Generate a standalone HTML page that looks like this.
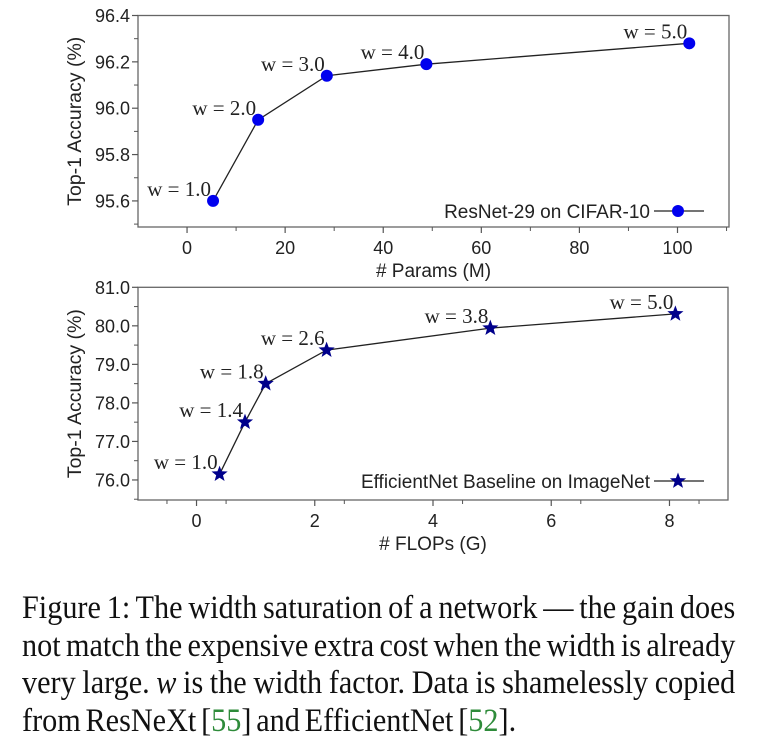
<!DOCTYPE html>
<html><head><meta charset="utf-8">
<style>
body{margin:0;background:#fff;width:757px;height:753px;overflow:hidden;position:relative}
svg{position:absolute;left:0;top:0}
.cap{position:absolute;left:22px;width:767px;transform:scaleX(0.93);transform-origin:0 0;font-family:"Liberation Serif",serif;font-size:32.5px;word-spacing:-3px;color:#111;line-height:37.5px;top:590px}
.ln{display:block;text-align:justify;text-align-last:justify;white-space:nowrap}
.ln.last{text-align-last:left}
.ref{color:#2e8b3a}
</style></head><body>
<svg id="chart" width="757" height="580"></svg>
<div class="cap">
<span class="ln">Figure 1: The width saturation of a network — the gain does</span>
<span class="ln">not match the expensive extra cost when the width is already</span>
<span class="ln">very large. <i>w</i> is the width factor. Data is shamelessly copied</span>
<span class="ln last">from ResNeXt [<span class="ref">55</span>] and EfficientNet [<span class="ref">52</span>].</span>
</div>
<script>
const topX=[5.3,14.5,28.5,48.8,102.4];
const topY=[95.6,95.95,96.14,96.19,96.28];
const topLabels=["w = 1.0","w = 2.0","w = 3.0","w = 4.0","w = 5.0"];
const topXTicks=[0,20,40,60,80,100];
const topYTicks=[95.6,95.8,96.0,96.2,96.4];
const botX=[0.39,0.82,1.17,2.2,4.97,8.1];
const botY=[76.15,77.5,78.5,79.37,79.94,80.31];
const botLabels=["w = 1.0","w = 1.4","w = 1.8","w = 2.6","w = 3.8","w = 5.0"];
const botXTicks=[0,2,4,6,8];
const botYTicks=[76,77,78,79,80,81];

const NS="http://www.w3.org/2000/svg";
const svg=document.getElementById('chart');
function mk(t,a,p){const e=document.createElementNS(NS,t);for(const k in a)e.setAttribute(k,a[k]);(p||svg).appendChild(e);return e;}
function star(cx,cy,r){let s="";for(let i=0;i<10;i++){const rr=i%2?r*0.42:r;const a=-Math.PI/2+i*Math.PI/5;s+=(cx+rr*Math.cos(a)).toFixed(2)+","+(cy+rr*Math.sin(a)).toFixed(2)+" ";}return s;}

function panel(cfg){
  const g=mk('g',{});
  
  
  const sx=v=>cfg.L+(v-cfg.x0)/(cfg.x1-cfg.x0)*(cfg.R-cfg.L);
  const sy=v=>cfg.B-(v-cfg.y0)/(cfg.y1-cfg.y0)*(cfg.B-cfg.T);
  const fr=mk('rect',{x:cfg.L,y:cfg.T,width:cfg.R-cfg.L,height:cfg.B-cfg.T,fill:'none',stroke:'#666','stroke-width':1.3},g);
  
  
  cfg.xt.forEach((v,i)=>{
    const x=sx(v);
    mk('line',{x1:x,x2:x,y1:cfg.B,y2:cfg.B+6,stroke:'#555','stroke-width':1.2},g);
    const t=mk('text',{x:x,y:cfg.B+27,'text-anchor':'middle','font-family':'Liberation Sans, sans-serif','font-size':18,fill:'#222'},g);
    t.textContent=String(v);
    
    
    const xm=sx(v+cfg.xstep/2); if(xm<cfg.R)mk('line',{x1:xm,x2:xm,y1:cfg.B,y2:cfg.B+4,stroke:'#555','stroke-width':1},g);
  });
  const xm0=sx(cfg.xt[0]-cfg.xstep/2); if(xm0>cfg.L)mk('line',{x1:xm0,x2:xm0,y1:cfg.B,y2:cfg.B+4,stroke:'#555','stroke-width':1},g);
  cfg.yt.forEach((v,i)=>{
    const y=sy(v);
    mk('line',{x1:cfg.L-6,x2:cfg.L,y1:y,y2:y,stroke:'#555','stroke-width':1.2},g);
    const t=mk('text',{x:cfg.L-8,y:y+6.5,'text-anchor':'end','font-family':'Liberation Sans, sans-serif','font-size':18,fill:'#222'},g);
    t.textContent=v.toFixed(1);
    
    
    const ym=sy(v-cfg.ystep/2); if(ym<cfg.B)mk('line',{x1:cfg.L-4,x2:cfg.L,y1:ym,y2:ym,stroke:'#555','stroke-width':1},g);
  });
  const xt=mk('text',{x:(cfg.L+cfg.R)/2,y:cfg.B+50,'text-anchor':'middle','font-family':'Liberation Sans, sans-serif','font-size':19,fill:'#222'},g);
  xt.textContent=cfg.xtitle;
  
  
  const yc=(cfg.T+cfg.B)/2;
  const yt=mk('text',{x:81,y:yc,'text-anchor':'middle',transform:`rotate(-90 81 ${yc})`,'font-family':'Liberation Sans, sans-serif','font-size':19.5,fill:'#222'},g);
  yt.textContent='Top-1 Accuracy (%)';
  
  
  const pts=cfg.xs.map((v,i)=>sx(v)+','+sy(cfg.ys[i])).join(' ');
  const pl=mk('polyline',{points:pts,fill:'none',stroke:'#222','stroke-width':1.3},g);
  
  
  cfg.xs.forEach((v,i)=>{
    const x=sx(v),y=sy(cfg.ys[i]);
    let m;
    if(cfg.marker==='circle') m=mk('circle',{cx:x,cy:y,r:6,fill:'#0000ee'},g);
    else m=mk('polygon',{points:star(x,y,8.5),fill:'#00008b'},g);
    
    
    const lb=mk('text',{x:x-2,y:y-5,'text-anchor':'end','font-family':'Liberation Serif, serif','font-size':21,fill:'#222'},g);
    lb.textContent=cfg.labels[i];
    
    
  });
  const lg=mk('text',{x:cfg.legX,y:cfg.legY,'text-anchor':'end','font-family':'Liberation Sans, sans-serif','font-size':19,fill:'#222'},g);
  lg.textContent=cfg.legend;
  
  
  mk('line',{x1:cfg.legX+4,x2:cfg.legX+54,y1:cfg.legY-7,y2:cfg.legY-7,stroke:'#222','stroke-width':1.3},g);
  if(cfg.marker==='circle') mk('circle',{cx:cfg.legX+28,cy:cfg.legY-7,r:6,fill:'#0000ee'},g);
  else mk('polygon',{points:star(cfg.legX+28,cfg.legY-7,8.5),fill:'#00008b'},g);
}
panel({name:'resnet-chart',L:138,R:729,T:15.5,B:227,x0:-10,x1:110.5,y0:95.4875,y1:96.4,xt:topXTicks,xstep:20,yt:topYTicks,ystep:0.2,
  xs:topX,ys:topY,labels:topLabels,marker:'circle',xtitle:'# Params (M)',legend:'ResNet-29 on CIFAR-10',legX:650,legY:218});
panel({name:'efficientnet-chart',L:138,R:728,T:287.3,B:500,x0:-0.99,x1:8.99,y0:75.48,y1:81,xt:botXTicks,xstep:1,yt:botYTicks,ystep:1,
  xs:botX,ys:botY,labels:botLabels,marker:'star',xtitle:'# FLOPs (G)',legend:'EfficientNet Baseline on ImageNet',legX:650,legY:488});
</script>
</body></html>
